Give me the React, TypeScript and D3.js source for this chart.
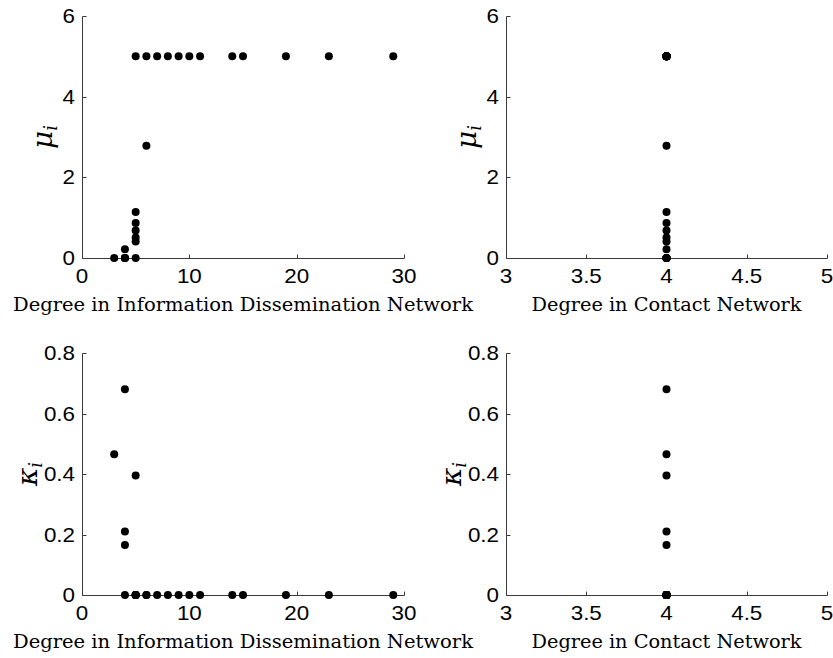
import React from "react";
import * as d3 from "d3";

// one entry per node (degree in info network, degree in contact network, mu, kappa)
const infoDegree = [3, 4, 4, 4, 4, 5, 5, 5, 5, 5, 5, 5, 6, 6, 7, 8, 9, 10, 11, 14, 15, 19, 23, 29];
const contactDegree = infoDegree.map(() => 4);
const mu = [0, 0, 0, 0, 0.22, 0, 1.14, 0.865, 0.68, 0.51, 0.41, 5, 2.78, 5, 5, 5, 5, 5, 5, 5, 5, 5, 5, 5];
const kappa = [0.465, 0.68, 0.21, 0.165, 0, 0.395, 0, 0, 0, 0, 0, 0, 0, 0, 0, 0, 0, 0, 0, 0, 0, 0, 0, 0];

const infoTicks = [0, 10, 20, 30];
const contactTicks = [3, 3.5, 4, 4.5, 5];
const muTicks = [0, 2, 4, 6];
const kappaTicks = [0, 0.2, 0.4, 0.6, 0.8];

const infoLabel = "Degree in Information Dissemination Network";
const contactLabel = "Degree in Contact Network";

const axisColor = "#3a3a3a";
const sans = "Liberation Sans, Arial, sans-serif";
const serif = "DejaVu Serif, serif";

type PanelProps = {
  xs: number[];
  ys: number[];
  xDomain: [number, number];
  yDomain: [number, number];
  xRange: [number, number];
  yRange: [number, number];
  xTicks: number[];
  yTicks: number[];
  xLabel: string;
  xLabelWidth: number;
  yName: string;
  yLabelX: number;
};

const Panel = (p: PanelProps) => {
  const x = d3.scaleLinear().domain(p.xDomain).range(p.xRange);
  const y = d3.scaleLinear().domain(p.yDomain).range(p.yRange);
  const x0 = Math.round(p.xRange[0]) + 0.5;
  const x1 = Math.round(p.xRange[1]) + 0.5;
  const y0 = Math.round(p.yRange[0]) + 0.5;
  const y1 = Math.round(p.yRange[1]) + 0.5;
  const yMid = (p.yRange[0] + p.yRange[1]) / 2;
  const xMid = (p.xRange[0] + p.xRange[1]) / 2;
  return (
    <g>
      {/* axes lines */}
      <line x1={x0} x2={x0} y1={y0} y2={y1} stroke={axisColor} strokeWidth={1} />
      <line x1={x0} x2={x1} y1={y0} y2={y0} stroke={axisColor} strokeWidth={1} />
      {p.xTicks.map((t) => (
        <g key={"x" + t}>
          <line x1={Math.round(x(t)) + 0.5} x2={Math.round(x(t)) + 0.5} y1={y0} y2={y0 - 4} stroke={axisColor} />
          <text transform={`translate(${x(t)},${p.yRange[0] + 25}) scale(1.12,1)`} fontFamily={sans} fontSize={20} textAnchor="middle">
            {String(t)}
          </text>
        </g>
      ))}
      {p.yTicks.map((t) => (
        <g key={"y" + t}>
          <line x1={x0} x2={x0 + 4} y1={Math.round(y(t)) + 0.5} y2={Math.round(y(t)) + 0.5} stroke={axisColor} />
          <text transform={`translate(${p.xRange[0] - 7},${y(t) + 7}) scale(1.12,1)`} fontFamily={sans} fontSize={20} textAnchor="end">
            {String(t)}
          </text>
        </g>
      ))}
      {p.xs.map((v, i) => (
        <circle key={i} cx={x(v)} cy={y(p.ys[i])} r={4} fill="#000" />
      ))}
      <text
        x={xMid}
        y={p.yRange[0] + 53}
        fontFamily={serif}
        fontSize={18}
        textAnchor="middle"
        textLength={p.xLabelWidth}
        lengthAdjust="spacingAndGlyphs"
      >
        {p.xLabel}
      </text>
      <text
        transform={`translate(${p.yLabelX},${yMid}) rotate(-90)`}
        fontFamily={serif}
        fontStyle="italic"
        fontSize={28}
        textAnchor="middle"
      >
        {p.yName}
        <tspan fontSize={18} dy={5}>i</tspan>
      </text>
    </g>
  );
};

export default function App() {
  const left: [number, number] = [82, 404];
  const right: [number, number] = [506, 827];
  const top: [number, number] = [258, 16];
  const bottom: [number, number] = [595, 353];
  return (
    <svg width={833} height={658} style={{ position: "absolute", left: 0, top: 0, background: "#fff" }}>
      <Panel xs={infoDegree} ys={mu} xDomain={[0, 30]} yDomain={[0, 6]} xRange={left} yRange={top}
        xTicks={infoTicks} yTicks={muTicks} xLabel={infoLabel} xLabelWidth={460} yName="μ" yLabelX={52} />
      <Panel xs={contactDegree} ys={mu} xDomain={[3, 5]} yDomain={[0, 6]} xRange={right} yRange={top}
        xTicks={contactTicks} yTicks={muTicks} xLabel={contactLabel} xLabelWidth={270} yName="μ" yLabelX={476} />
      <Panel xs={infoDegree} ys={kappa} xDomain={[0, 30]} yDomain={[0, 0.8]} xRange={left} yRange={bottom}
        xTicks={infoTicks} yTicks={kappaTicks} xLabel={infoLabel} xLabelWidth={460} yName="κ" yLabelX={37} />
      <Panel xs={contactDegree} ys={kappa} xDomain={[3, 5]} yDomain={[0, 0.8]} xRange={right} yRange={bottom}
        xTicks={contactTicks} yTicks={kappaTicks} xLabel={contactLabel} xLabelWidth={270} yName="κ" yLabelX={461} />
    </svg>
  );
}
